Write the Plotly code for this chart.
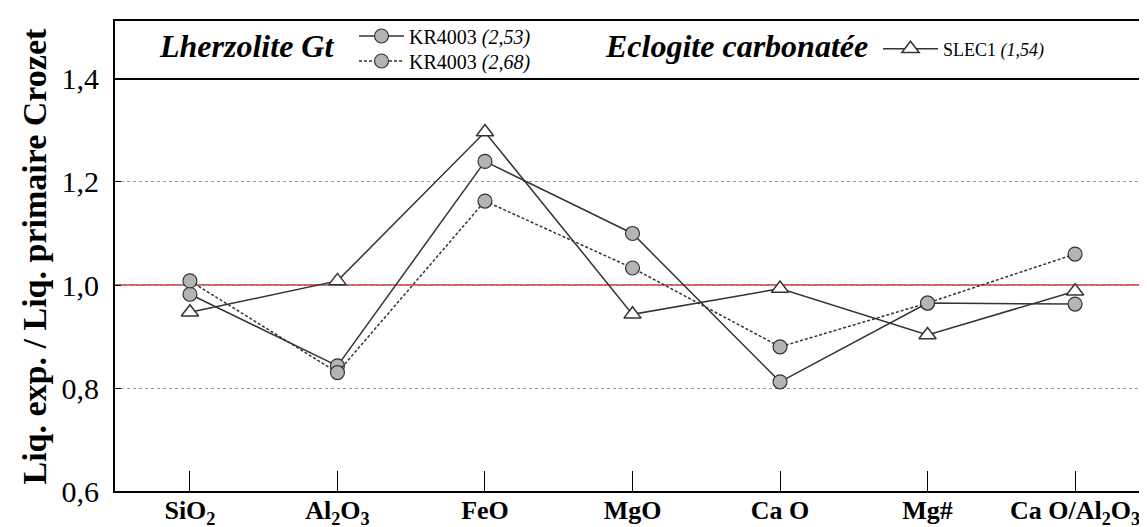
import plotly.graph_objects as go

categories = ["SiO<sub>2</sub>", "Al<sub>2</sub>O<sub>3</sub>", "FeO", "MgO", "Ca O", "Mg#",
              "Ca O/Al<sub>2</sub>O<sub>3</sub>"]
kr_253 = [0.982, 0.843, 1.240, 1.100, 0.812, 0.965, 0.963]
kr_268 = [1.008, 0.830, 1.163, 1.033, 0.880, 0.965, 1.060]
slec1 = [0.947, 1.008, 1.297, 0.943, 0.993, 0.903, 0.988]
y_ticks = [0.6, 0.8, 1.0, 1.2, 1.4]
y_ticklabels = ["0,6", "0,8", "1,0", "1,2", "1,4"]

FONT = "Liberation Serif, Times New Roman, serif"
x = list(range(len(categories)))

fig = go.Figure()
fig.add_trace(go.Scatter(
    x=x, y=kr_253, mode="lines+markers", name="KR4003 <i>(2,53)</i>", legend="legend",
    line=dict(color="#333333", width=1.5),
    marker=dict(symbol="circle", size=14, color="#b4b4b4", line=dict(color="#333333", width=1.2))))
fig.add_trace(go.Scatter(
    x=x, y=kr_268, mode="lines+markers", name="KR4003 <i>(2,68)</i>", legend="legend3",
    line=dict(color="#333333", width=1.5, dash="3px,2px"),
    marker=dict(symbol="circle", size=14, color="#b4b4b4", line=dict(color="#333333", width=1.2))))
fig.add_trace(go.Scatter(
    x=x, y=slec1, mode="lines+markers", name="SLEC1 <i>(1,54)</i>", legend="legend2",
    line=dict(color="#333333", width=1.5),
    marker=dict(symbol="triangle-up", size=15, color="white", line=dict(color="#333333", width=1.5))))

fig.add_hline(y=1.0, line=dict(color="#e02020", width=1.5), layer="below")
fig.add_hline(y=1.4, line=dict(color="black", width=2))

W, H = 1147, 527
L, R, T, B = 107, 5, 13, 44
pw, ph = W - L - R, H - T - B
def px(xp):
    return (xp - L) / pw
def py(yp):
    return (H - B - yp) / ph

fig.add_annotation(x=px(238), y=py(38), xref="paper", yref="paper", showarrow=False,
                   xanchor="center", yanchor="middle",
                   text="<b><i>Lherzolite Gt</i></b>", font=dict(family=FONT, size=32, color="black"))
fig.add_annotation(x=px(728), y=py(38), xref="paper", yref="paper", showarrow=False,
                   xanchor="center", yanchor="middle",
                   text="<b><i>Eclogite carbonatée</i></b>", font=dict(family=FONT, size=32, color="black"))
fig.add_annotation(x=px(25.5), y=py(248), xref="paper", yref="paper", showarrow=False,
                   xanchor="center", yanchor="middle", textangle=-90,
                   text="<b>Liq. exp. / Liq. primaire Crozet</b>",
                   font=dict(family=FONT, size=34, color="black"))

leg_common = dict(xanchor="left", yanchor="middle", bgcolor="rgba(0,0,0,0)", borderwidth=0)
fig.update_layout(
    width=W, height=H,
    margin=dict(l=L, r=R, t=T, b=B, autoexpand=False),
    paper_bgcolor="white", plot_bgcolor="white",
    font=dict(family=FONT, color="black"),
    showlegend=True,
    legend=dict(x=px(346), y=py(28), itemwidth=45,
                font=dict(family=FONT, size=20, color="black"), **leg_common),
    legend3=dict(x=px(346), y=py(53), itemwidth=45,
                 font=dict(family=FONT, size=20, color="black"), **leg_common),
    legend2=dict(x=px(870), y=py(41), itemwidth=55,
                 font=dict(family=FONT, size=18, color="black"), **leg_common),
    xaxis=dict(range=[-0.508, 6.508], tickmode="array", tickvals=x,
               ticktext=["<b>" + c + "</b>" for c in categories],
               ticks="inside", ticklen=20, tickwidth=1, tickcolor="black",
               showline=True, linecolor="black", linewidth=2, mirror=True,
               showgrid=False, zeroline=False, automargin=False, ticklabelstandoff=-5,
               tickfont=dict(family=FONT, size=26, color="black"), fixedrange=True),
    yaxis=dict(range=[0.6, 1.5126], tickmode="array", tickvals=y_ticks, ticktext=y_ticklabels,
               ticks="inside", ticklen=6, tickwidth=1, tickcolor="black",
               showline=True, linecolor="black", linewidth=2, mirror=True,
               showgrid=True, gridcolor="#9a9a9a", griddash="dot", gridwidth=1,
               zeroline=False, automargin=False, ticklabelstandoff=8,
               tickfont=dict(family=FONT, size=30, color="black")),
)

fig.write_html("out.html")
